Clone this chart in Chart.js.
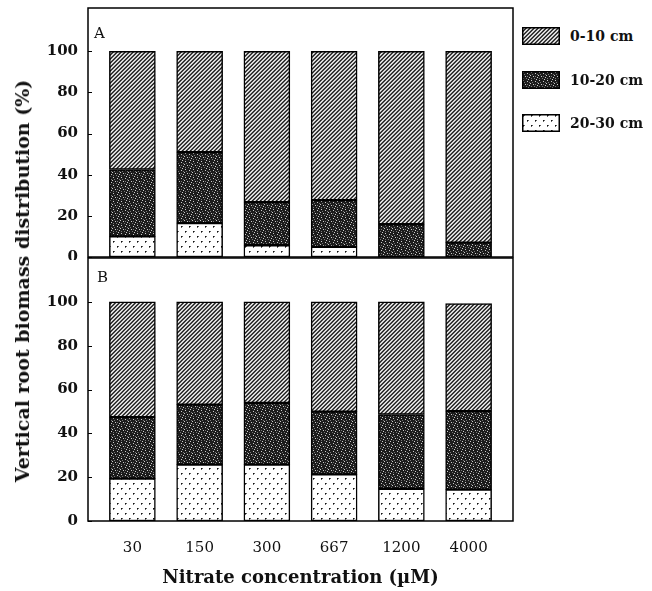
<!DOCTYPE html>
<html>
<head>
<meta charset="utf-8">
<script src="https://cdn.jsdelivr.net/npm/chart.js@4.4.1/dist/chart.umd.min.js"></script>
<style>
  body { margin: 0; background: #fff; width: 652px; height: 591px; position: relative; overflow: hidden; }
  canvas.chart { position: absolute; left: 0; }
  .lbl { position: absolute; font-family: "DejaVu Serif"; color: #111; line-height: 1; }
  .ytitle { position: absolute; left: 22px; top: 281px; transform: translate(-50%, -50%) rotate(-90deg);
            font: bold 19px "DejaVu Serif"; color: #111; white-space: nowrap; }
  .legend { position: absolute; left: 522px; top: 0; }
  .legend .row { position: absolute; left: 0; display: flex; align-items: center; height: 20px; white-space: nowrap;
                 font: bold 14px "DejaVu Serif"; color: #111; }
  .legend canvas { margin-right: 10px; }
</style>
</head>
<body>
<canvas class="chart" id="chartA" width="520" height="260" style="top:0"></canvas>
<canvas class="chart" id="chartB" width="520" height="334" style="top:257px"></canvas>
<div class="lbl" style="left:94px; top:26px; font-size:15px;">A</div>
<div class="lbl" style="left:97px; top:270px; font-size:15px;">B</div>
<div class="ytitle">Vertical root biomass distribution (%)</div>
<div class="legend" id="legend"></div>
<script>
// nitrate concentrations (µM)
const concentrations = ['30', '150', '300', '667', '1200', '4000'];
const depthLabels = ['0-10 cm', '10-20 cm', '20-30 cm'];
const yTicks = [0, 20, 40, 60, 80, 100];

// panel A, % of root biomass in each layer
const a_0_10  = [57.5, 49.0, 73.3, 72.4, 84.1, 93.0];
const a_10_20 = [32.5, 34.5, 21.0, 22.7, 15.9, 7.0];
const a_20_30 = [10.0, 16.5, 5.7, 4.9, 0.0, 0.0];

// panel B
const b_0_10  = [52.6, 46.9, 46.1, 50.1, 51.4, 49.1];
const b_10_20 = [28.1, 27.4, 28.2, 28.6, 33.9, 35.8];
const b_20_30 = [19.3, 25.7, 25.7, 21.3, 14.7, 14.3];

// fill patterns like the printed figure
function makePattern(w, h, paint) {
  const c = document.createElement('canvas');
  c.width = w; c.height = h;
  const g = c.getContext('2d');
  paint(g);
  return g.createPattern(c, 'repeat');
}
function px(g, x, y, col) { g.fillStyle = col; g.fillRect(x, y, 1, 1); }

const hatch = makePattern(4, 4, g => {
  g.fillStyle = '#eee'; g.fillRect(0, 0, 4, 4);
  for (let x = 0; x < 4; x++) for (let y = 0; y < 4; y++) {
    const k = (x + y) % 4;
    if (k === 0) px(g, x, y, '#222');
    else if (k === 1) px(g, x, y, '#555');
    else if (k === 3) px(g, x, y, '#bbb');
  }
});
const darkDots = makePattern(8, 8, g => {
  g.fillStyle = '#1c1c1c'; g.fillRect(0, 0, 8, 8);
  [[1, 1], [5, 2], [3, 5], [7, 6], [6, 0], [0, 4]].forEach(p => px(g, p[0], p[1], '#ccc'));
  [[2, 3], [4, 7], [7, 3], [1, 7], [5, 5]].forEach(p => px(g, p[0], p[1], '#777'));
});
const lightDots = makePattern(8, 10, g => {
  g.fillStyle = '#fff'; g.fillRect(0, 0, 8, 10);
  [[1, 1], [5, 6]].forEach(p => {
    px(g, p[0], p[1], '#111');
    px(g, p[0] + 1, p[1], '#666');
    px(g, p[0], p[1] + 1, '#666');
  });
});
const fills = [hatch, darkDots, lightDots];

function xy(arr) { return arr.map((v, i) => ({ x: i, y: v })); }

function datasets(top, mid, bottom) {
  return [
    { label: depthLabels[2], data: xy(bottom), backgroundColor: lightDots },
    { label: depthLabels[1], data: xy(mid), backgroundColor: darkDots },
    { label: depthLabels[0], data: xy(top), backgroundColor: hatch }
  ].map(d => Object.assign(d, {
    borderColor: '#000', borderWidth: 1.5, borderSkipped: false, barThickness: 46
  }));
}

// frame round the plot area and short inward y ticks
const framePlugin = {
  id: 'frame',
  afterDraw(chart) {
    const { ctx, chartArea: a, scales } = chart;
    ctx.save();
    ctx.strokeStyle = '#000';
    ctx.lineWidth = 1.5;
    ctx.strokeRect(a.left, a.top, a.right - a.left, a.bottom - a.top);
    ctx.lineWidth = 1;
    yTicks.forEach(v => {
      const y = Math.round(scales.y.getPixelForValue(v)) + 0.5;
      ctx.beginPath();
      ctx.moveTo(a.left, y);
      ctx.lineTo(a.left + 4, y);
      ctx.stroke();
    });
    ctx.restore();
  }
};

function options(yMax, showX, pad) {
  return {
    responsive: false,
    animation: false,
    layout: { padding: pad },
    plugins: { legend: { display: false }, tooltip: { enabled: false } },
    scales: {
      x: {
        type: 'linear', stacked: true, min: -0.66, max: 5.66, offset: false, display: showX,
        afterBuildTicks: s => { s.ticks = concentrations.map((_, i) => ({ value: i })); },
        afterFit: s => { s.height = showX ? 70 : 0; s.paddingLeft = 0; s.paddingRight = 0; },
        grid: { display: false },
        border: { display: false },
        ticks: {
          padding: 10, color: '#111', font: { family: 'DejaVu Serif', size: 15 },
          callback: v => concentrations[v]
        },
        title: {
          display: true, text: 'Nitrate concentration (µM)', color: '#111',
          font: { family: 'DejaVu Serif', size: 18, weight: 'bold' }, padding: { top: 0, bottom: 2 }
        }
      },
      y: {
        stacked: true, min: 0, max: yMax,
        afterBuildTicks: s => { s.ticks = yTicks.map(v => ({ value: v })); },
        afterFit: s => { s.width = 88; s.paddingTop = 0; s.paddingBottom = 0; },
        grid: { display: false, drawTicks: false },
        border: { display: false },
        ticks: { padding: 10, color: '#111', font: { family: 'DejaVu Serif', size: 15, weight: 'bold' } }
      }
    }
  };
}

new Chart(document.getElementById('chartA'), {
  type: 'bar',
  data: { datasets: datasets(a_0_10, a_10_20, a_20_30) },
  options: options(121, false, { top: 8, right: 7, bottom: 3, left: 0 }),
  plugins: [framePlugin]
});

new Chart(document.getElementById('chartB'), {
  type: 'bar',
  data: { datasets: datasets(b_0_10, b_10_20, b_20_30) },
  options: options(120, true, { top: 1, right: 7, bottom: 0, left: 0 }),
  plugins: [framePlugin]
});

// legend swatches with the same fills
const legend = document.getElementById('legend');
const rowCenters = [36, 80, 123];
depthLabels.forEach((name, i) => {
  const row = document.createElement('div');
  row.className = 'row';
  row.style.top = (rowCenters[i] - 10) + 'px';
  const sw = document.createElement('canvas');
  sw.width = 38; sw.height = 18;
  const g = sw.getContext('2d');
  g.fillStyle = fills[i];
  g.fillRect(0, 0, 38, 18);
  g.strokeStyle = '#000'; g.lineWidth = 1.5;
  g.strokeRect(0.75, 0.75, 36.5, 16.5);
  row.appendChild(sw);
  row.appendChild(document.createTextNode(name));
  legend.appendChild(row);
});
</script>
</body>
</html>
